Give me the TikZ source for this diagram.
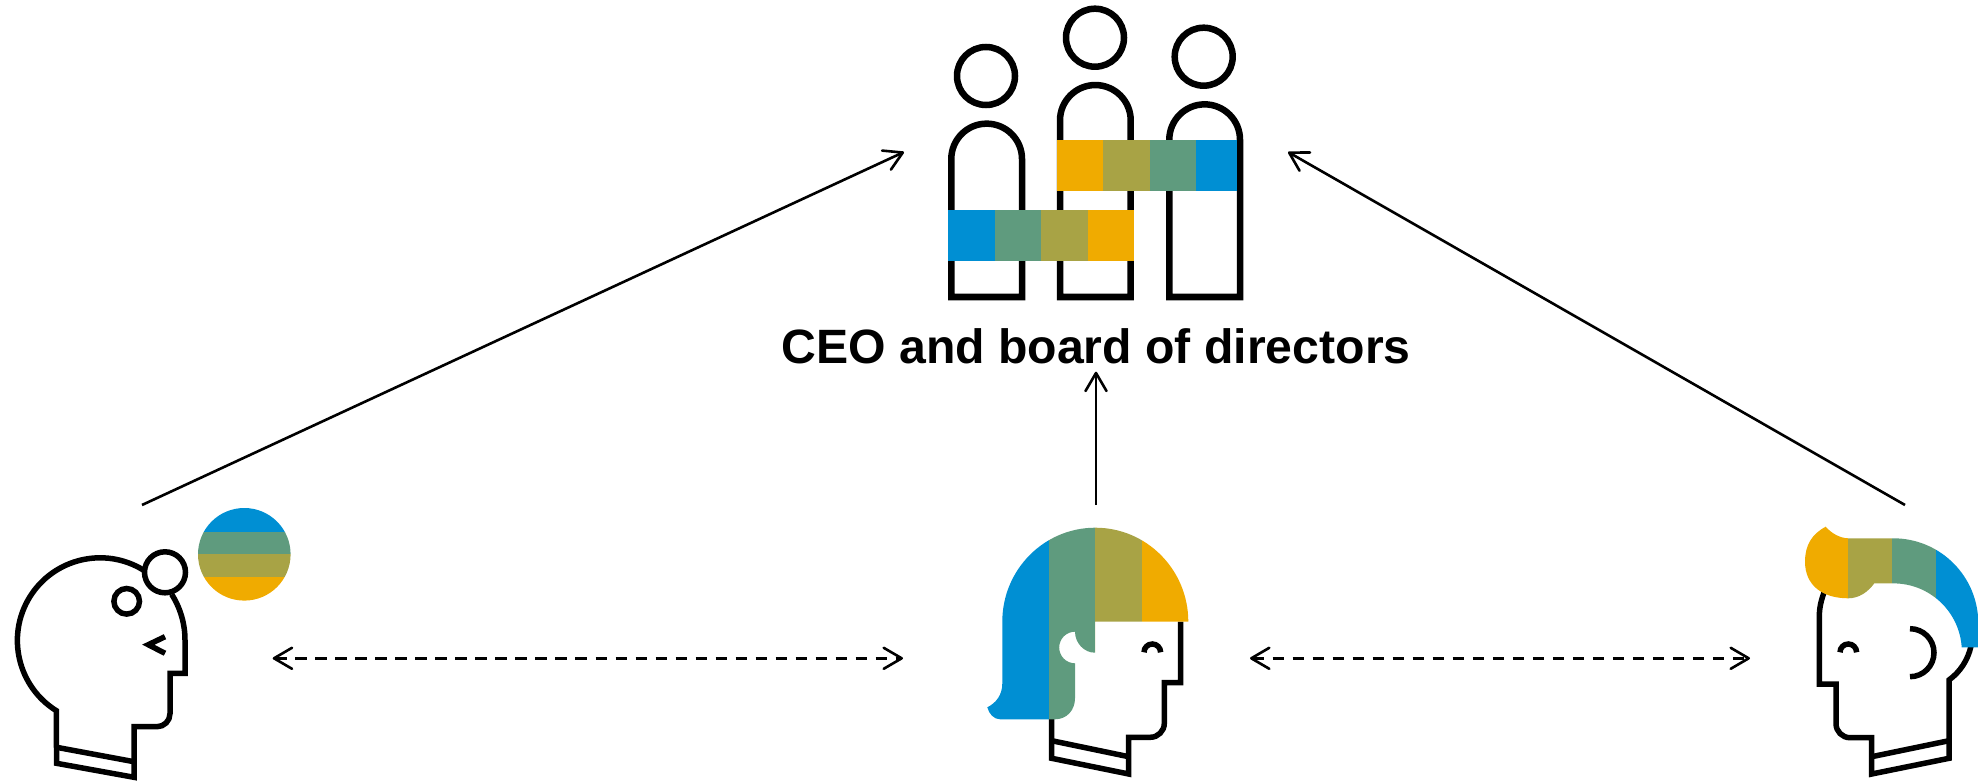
\documentclass[tikz,border=0pt]{standalone}
\usepackage{fontspec}
\setmainfont{Liberation Sans}
\usetikzlibrary{arrows.meta}

\definecolor{sapblue}{HTML}{008FD3}
\definecolor{sapgreen}{HTML}{5F9B7E}
\definecolor{sapolive}{HTML}{A8A345}
\definecolor{sapgold}{HTML}{F0AB00}

\begin{document}
\begin{tikzpicture}[
    x=0.01cm, y=-0.01cm,
    outline/.style={draw=black, line width=0.055cm, miter limit=10},
    bold/.style={draw=black, line width=0.065cm},
    barb/.tip={Straight Barb[round, length=0.18cm, width=0.21cm, line width=0.026cm]},
    relation/.style={-barb, line width=0.026cm},
    peer/.style={barb-barb, line width=0.026cm, dash pattern=on 0.115cm off 0.085cm},
    title/.style={font=\bfseries\fontsize{13.7pt}{16pt}\selectfont, inner sep=0pt, outer sep=0.08cm}
  ]

    \useasboundingbox (0,0) rectangle (1978,782);

    % Board: three people, two colour bands
    \draw[bold] (986,76) circle (29);
    \draw[bold] (1095,37.7) circle (29);
    \draw[bold] (1203.7,56.7) circle (29);
    \draw[bold] (951.3,297) -- (951.3,159) arc[start angle=180, end angle=360, radius=35.35] -- (1022,297) -- cycle;
    \draw[bold] (1060,297) -- (1060,120.4) arc[start angle=180, end angle=360, radius=35.35] -- (1130.7,297) -- cycle;
    \draw[bold] (1169.3,297) -- (1169.3,139.7) arc[start angle=180, end angle=360, radius=35.35] -- (1240,297) -- cycle;

    \fill[sapgold] (1057,140) rectangle (1103.3,190.7);
    \fill[sapolive] (1103.3,140) rectangle (1149.7,190.7);
    \fill[sapgreen] (1149.7,140) rectangle (1196,190.7);
    \fill[sapblue] (1196,140) rectangle (1236.7,190.7);

    \fill[sapblue] (948.3,210.3) rectangle (995,261.3);
    \fill[sapgreen] (995,210.3) rectangle (1041.3,261.3);
    \fill[sapolive] (1041.3,210.3) rectangle (1087.7,261.3);
    \fill[sapgold] (1087.7,210.3) rectangle (1133.7,261.3);

    \node[title] (ceo) at (1096,346) {CEO and board of directors};

    % Left head with thought ball
    \draw[outline] (143.3,570) arc[start angle=301.5, end angle=122, radius=82.7]
      -- (56.6,763.3) -- (134,777.3) -- (134,726.7) -- (157,726.7)
      arc[start angle=90, end angle=0, radius=13] -- (170,673.3) -- (185,673.3) -- (185,640)
      arc[start angle=0, end angle=-32.5, radius=85];
    \draw[outline] (56.6,747.3) -- (134,761.7);
    \draw[outline] (165,572.3) circle (20.5);
    \draw[outline] (126.7,601.3) circle (12.8);
    \draw[bold, line width=0.055cm] (165,636.7) -- (148.3,644.7) -- (165,653.3);

    \begin{scope}
      \clip (244.3,554.3) circle (46.3);
      \fill[sapblue] (190,500) rectangle (300,531.7);
      \fill[sapgreen] (190,531.7) rectangle (300,554.3);
      \fill[sapolive] (190,554.3) rectangle (300,577.3);
      \fill[sapgold] (190,577.3) rectangle (300,610);
    \end{scope}

    % Middle head
    \draw[outline] (1180.7,621.7) -- (1180.7,682.7) -- (1164.3,682.7) -- (1164.3,723.3)
      arc[start angle=0, end angle=90, radius=14] -- (1128.7,737.3) -- (1128.7,774)
      -- (1051.7,758.3) -- (1051.7,715);
    \draw[outline] (1051.7,740.7) -- (1128.7,756.7);
    \draw[outline] (1144,652.3) arc[start angle=180, end angle=360, radius=8.3];

    \begin{scope}
      \clip (1188.3,621.7) arc[start angle=0, end angle=-180, x radius=93, y radius=94]
        -- (1002.3,683.3) .. controls (1002.3,695) and (996,703) .. (987.3,707.3)
        .. controls (989,714) and (994,719.3) .. (1000,719.3) -- (1055,719.3)
        .. controls (1067,719.3) and (1075,710) .. (1075,698.3) -- (1075,663.3)
        arc[start angle=90, end angle=270, radius=15.8]
        .. controls (1075,643) and (1084,652.7) .. (1095,652.7) -- (1095,621.7) -- cycle;
      \fill[sapblue] (980,520) rectangle (1049,725);
      \fill[sapgreen] (1049,520) rectangle (1095,725);
      \fill[sapolive] (1095,520) rectangle (1141.7,725);
      \fill[sapgold] (1141.7,520) rectangle (1195,725);
    \end{scope}

    % Right head
    \draw[outline] (1825,590) .. controls (1821,600) and (1819.3,608) .. (1819.3,616.7)
      -- (1819.3,684) -- (1836,684) -- (1836,723.7)
      arc[start angle=180, end angle=90, radius=14] -- (1871.7,737.7) -- (1871.7,774)
      -- (1949,758.3) -- (1949,680) .. controls (1960,672) and (1968,660) .. (1971,646);
    \draw[outline] (1871.7,756.7) -- (1949,740.7);
    \draw[outline] (1840,652.3) arc[start angle=180, end angle=360, radius=8.3];
    \draw[outline] (1910,628.7) arc[start angle=-90, end angle=90, radius=24];

    \begin{scope}
      \clip (1825.7,526.7) .. controls (1831,533) and (1840,538.3) .. (1848.3,538.3)
        -- (1893.3,538.3) arc[start angle=-90, end angle=0, radius=85]
        -- (1978.3,647.3) -- (1961.7,647.3)
        arc[start angle=-3.7, end angle=-90, radius=68.3] -- (1874.3,583.3)
        .. controls (1868,592) and (1859,598.3) .. (1848.3,598.3)
        .. controls (1822,598.3) and (1805,585) .. (1805,561.7)
        .. controls (1805,545) and (1812,534) .. (1825.7,526.7) -- cycle;
      \fill[sapgold] (1800,520) rectangle (1848.3,605);
      \fill[sapolive] (1848.3,520) rectangle (1892,605);
      \fill[sapgreen] (1892,520) rectangle (1935.7,605);
      \fill[sapblue] (1935.7,520) rectangle (1980,650);
    \end{scope}

    % Connector ends
    \coordinate (leftUp) at (142,505);
    \coordinate (boardLeft) at (904,152);
    \coordinate (midUp) at (1096,505);
    \coordinate (rightUp) at (1905,505);
    \coordinate (boardRight) at (1288,152);
    \coordinate (leftPeer) at (272.7,658.3);
    \coordinate (midPeerL) at (903,658.3);
    \coordinate (midPeerR) at (1250,658.3);
    \coordinate (rightPeer) at (1750,658.3);

    % Relations
    \draw[relation] (leftUp) -- (boardLeft);
    \draw[relation] (midUp) -- (ceo.south);
    \draw[relation] (rightUp) -- (boardRight);
    \draw[peer] (leftPeer) -- (midPeerL);
    \draw[peer] (midPeerR) -- (rightPeer);
  \end{tikzpicture}
\end{document}
